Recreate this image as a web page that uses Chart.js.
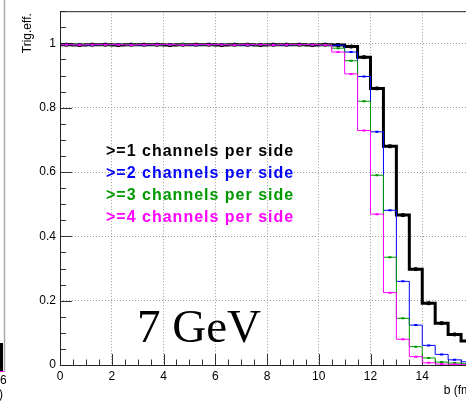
<!DOCTYPE html>
<html><head><meta charset="utf-8">
<script src="https://cdn.jsdelivr.net/npm/chart.js@4/dist/chart.umd.min.js"></script>
<style>
html,body{margin:0;padding:0;background:#fff;overflow:hidden;width:466px;height:401px}
canvas{display:block}
</style></head>
<body>
<canvas id="c" width="520" height="401"></canvas>
<script>
// ---- data ----
const binEdges = [0,0.5,1,1.5,2,2.5,3,3.5,4,4.5,5,5.5,6,6.5,7,7.5,8,8.5,9,9.5,10,10.5,11,11.5,12,12.5,13,13.5,14,14.5,15,15.5,16];
const effGe1 = [0.996,0.995,0.996,0.996,0.995,0.996,0.996,0.996,0.995,0.996,0.996,0.996,0.995,0.996,0.996,0.995,0.996,0.996,0.996,0.995,0.996,
                0.995,0.990,0.957,0.860,0.680,0.466,0.298,0.192,0.130,0.095,0.075];
const effGe2 = [0.996,0.996,0.995,0.996,0.996,0.996,0.995,0.996,0.996,0.996,0.995,0.996,0.996,0.996,0.995,0.996,0.996,0.995,0.996,0.996,0.995,
                0.994,0.973,0.897,0.725,0.481,0.260,0.124,0.061,0.033,0.016,0.010];
const effGe3 = [0.996,0.996,0.996,0.995,0.996,0.996,0.996,0.995,0.996,0.997,0.996,0.995,0.996,0.996,0.996,0.995,0.996,0.996,0.995,0.996,0.996,
                0.985,0.946,0.820,0.590,0.335,0.145,0.057,0.022,0.009,0.006,0.004];
const effGe4 = [0.996,0.995,0.996,0.996,0.996,0.995,0.996,0.996,0.996,0.995,0.996,0.996,0.996,0.995,0.996,0.996,0.995,0.996,0.996,0.996,0.995,
                0.973,0.905,0.729,0.469,0.225,0.080,0.026,0.007,0.003,0.002,0.001];
const seriesLabels = [">=1 channels per side", ">=2 channels per side", ">=3 channels per side", ">=4 channels per side"];
const seriesColors = ["#000000", "#0000ff", "#009900", "#ff00ff"];
const xMajorStep = 2, xMinorStep = 0.5, xMin = 0, xMax = 16;
const yMajorStep = 0.2, yMinorStep = 0.05, yMin = 0, yMax = 1.1;
const xTitle = "b (fm)";
const yTitle = "Trig.eff.";
const energyLabel = "7 GeV";
// fragments of the neighbouring panel, cut by the image edge
const neighbourTick = "6";
const neighbourTitleEnd = ")";

// ---- build ----
function histPoints(vals){
  const pts = vals.map((v,i)=>({x:binEdges[i], y:v}));
  pts.push({x:binEdges[binEdges.length-1], y:vals[vals.length-1]});
  return pts;
}
function centerPoints(vals){
  return vals.map((v,i)=>({x:(binEdges[i]+binEdges[i+1])/2, y:v}));
}
const allSeries = [effGe1, effGe2, effGe3, effGe4];
const widths = [3, 1, 1, 1];
const drawOrder = [3, 2, 1, 0];
const datasets = [];
allSeries.forEach((vals, k) => {
  datasets.push({
    type:'line', label: seriesLabels[k], data: histPoints(vals),
    borderColor: seriesColors[k], borderWidth: widths[k], stepped: 'before',
    pointRadius: 0, fill: false, order: drawOrder[k] + 10
  });
  datasets.push({
    type:'scatter', label: seriesLabels[k] + ' markers', data: centerPoints(vals),
    showLine:false, pointStyle: k === 0 ? 'rect' : 'line',
    pointRadius: k === 0 ? 2 : 1.6, borderWidth: k === 0 ? 1 : 2,
    borderColor: seriesColors[k], backgroundColor: seriesColors[k], order: drawOrder[k]
  });
});
function isMult(v, step){ const r = v/step; return Math.abs(r - Math.round(r)) < 1e-6; }

const rootStyle = {
  id:'rootStyle',
  beforeDatasetsDraw(chart){
    const ctx = chart.ctx, a = chart.chartArea, xs = chart.scales.x, ys = chart.scales.y;
    ctx.save();
    ctx.strokeStyle = '#333'; ctx.lineWidth = 1;
    xs.ticks.forEach(t => {
      const px = Math.round(xs.getPixelForValue(t.value)) + 0.5;
      const len = isMult(t.value, xMajorStep) ? 11 : 5.5;
      ctx.beginPath(); ctx.moveTo(px, a.bottom); ctx.lineTo(px, a.bottom - len); ctx.stroke();
    });
    ys.ticks.forEach(t => {
      const py = Math.round(ys.getPixelForValue(t.value)) + 0.5;
      const len = isMult(t.value, yMajorStep) ? 12 : 6;
      ctx.beginPath(); ctx.moveTo(a.left, py); ctx.lineTo(a.left + len, py); ctx.stroke();
    });
    ctx.restore();
  },
  afterDraw(chart){
    const ctx = chart.ctx, a = chart.chartArea;
    ctx.save();
    // frame
    ctx.strokeStyle = '#222'; ctx.lineWidth = 1;
    ctx.beginPath();
    ctx.moveTo(a.left + 0.5, a.top + 0.5); ctx.lineTo(a.right, a.top + 0.5);
    ctx.moveTo(a.left + 0.5, a.top); ctx.lineTo(a.left + 0.5, a.bottom + 0.5);
    ctx.moveTo(a.left, Math.round(a.bottom) + 0.5); ctx.lineTo(a.right, Math.round(a.bottom) + 0.5);
    ctx.stroke();
    // axis titles
    ctx.fillStyle = '#000';
    ctx.font = '12px "Liberation Sans", Arial, sans-serif';
    ctx.textAlign = 'right'; ctx.textBaseline = 'alphabetic';
    ctx.fillText(xTitle, a.right + 1, 394);
    ctx.save();
    ctx.translate(31, a.top + 2); ctx.rotate(-Math.PI/2);
    ctx.textAlign = 'right';
    ctx.fillText(yTitle, 0, 0);
    ctx.restore();
    // legend text
    ctx.font = 'bold 16px "Liberation Sans", Arial, sans-serif';
    ctx.textAlign = 'left';
    if ('letterSpacing' in ctx) ctx.letterSpacing = '1px';
    seriesLabels.forEach((s, k) => {
      ctx.fillStyle = seriesColors[k];
      ctx.fillText(s, 106, 156 + k * 22);
    });
    if ('letterSpacing' in ctx) ctx.letterSpacing = '0px';
    // energy label
    ctx.fillStyle = '#000';
    ctx.font = '47px "Liberation Serif", "Times New Roman", serif';
    ctx.fillText(energyLabel, 137, 342);
    // neighbouring panel fragments
    ctx.strokeStyle = '#aaa'; ctx.lineWidth = 1.5;
    ctx.beginPath(); ctx.moveTo(4.5, 0); ctx.lineTo(4.5, 372); ctx.stroke();
    ctx.fillStyle = '#000'; ctx.fillRect(0, 343, 3, 29);
    ctx.fillStyle = '#ff00ff'; ctx.fillRect(0, 371, 4, 1);
    ctx.fillStyle = '#000';
    ctx.font = '12px "Liberation Sans", Arial, sans-serif';
    ctx.fillText(neighbourTick, 0, 384);
    ctx.fillText(neighbourTitleEnd, -1, 398);
    ctx.restore();
  }
};

new Chart(document.getElementById('c'), {
  data: { datasets },
  options: {
    responsive:false, animation:false, devicePixelRatio:1,
    layout:{ padding:{ top:10, right:46, left:0, bottom:0 } },
    plugins:{ legend:{display:false}, tooltip:{enabled:false} },
    scales:{
      x:{
        type:'linear', min:xMin, max:xMax,
        afterFit(s){ s.height = 36; },
        ticks:{ stepSize:xMinorStep, autoSkip:false, maxRotation:0, padding:4, color:'#000',
          font:{ family:'"Liberation Sans", Arial, sans-serif', size:12 },
          callback:(v)=> isMult(v, xMajorStep) ? String(v) : '' },
        grid:{ drawTicks:false, color:(c)=> (c.tick && isMult(c.tick.value, xMajorStep)) ? '#999' : 'rgba(0,0,0,0)', lineWidth:1 },
        border:{ display:false, dash:[1,2] }
      },
      y:{
        type:'linear', min:yMin, max:yMax,
        afterFit(s){ s.width = 60; },
        ticks:{ stepSize:yMinorStep, autoSkip:false, padding:4, color:'#000',
          font:{ family:'"Liberation Sans", Arial, sans-serif', size:12 },
          callback:(v)=> isMult(v, yMajorStep) ? String(Number(v.toFixed(1))) : '' },
        grid:{ drawTicks:false, color:(c)=> (c.tick && isMult(c.tick.value, yMajorStep)) ? '#999' : 'rgba(0,0,0,0)', lineWidth:1 },
        border:{ display:false, dash:[1,2] }
      }
    }
  },
  plugins:[rootStyle]
});
</script>
</body></html>
